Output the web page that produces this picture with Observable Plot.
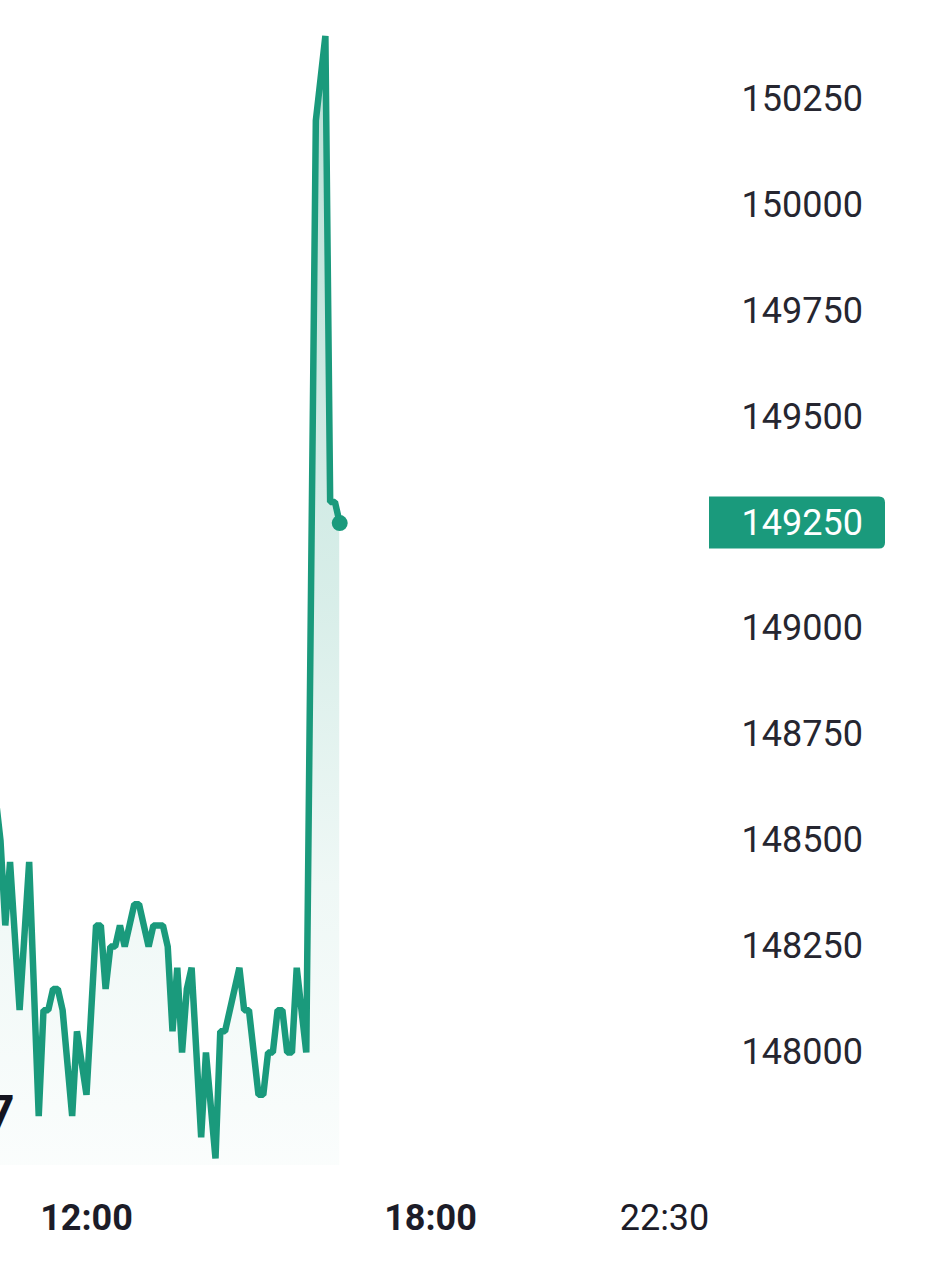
<!DOCTYPE html>
<html><head><meta charset="utf-8">
<script src="https://cdn.jsdelivr.net/npm/d3@7"></script>
<script src="https://cdn.jsdelivr.net/npm/@observablehq/plot@0.6"></script>
<style>
html,body{margin:0;padding:0;background:#fff;}
#chart svg{display:block;}
</style></head><body><div id="chart"></div>
<script>
// price samples (5-minute grid, vertices only)
const times = ["10:25","10:30","10:35","10:40","10:50","11:00","11:10","11:15","11:20","11:25","11:30","11:35","11:45","11:50","12:00","12:10","12:15","12:20","12:25","12:30","12:35","12:40","12:50","12:55","13:05","13:10","13:20","13:25","13:30","13:35","13:40","13:45","13:50","14:00","14:05","14:15","14:20","14:25","14:40","14:45","14:50","15:00","15:05","15:10","15:15","15:20","15:25","15:30","15:35","15:40","15:50","15:55","16:00","16:05","16:10","16:15","16:20","16:25"];
const prices = [148600,148500,148300,148450,148100,148450,147850,148100,148100,148150,148150,148100,147850,148050,147900,148300,148300,148150,148250,148250,148300,148250,148350,148350,148250,148300,148300,148250,148050,148200,148000,148150,148200,147800,148000,147750,148050,148050,148200,148100,148100,147900,147900,148000,148000,148100,148100,148000,148000,148200,148000,149100,150200,150300,150400,149300,149300,149250];
const yTicks = [148000,148250,148500,148750,149000,149250,149500,149750,150000,150250];
const xTickTimes = ["12:00","18:00","22:30"];
const xTickLabels = ["12:00","18:00","22:30"];
const xTickBold = [true, true, false];
const lastPrice = 149250;
const cutLabel = ["7"];

const parse = t => new Date("2024-01-01T" + t + ":00");
const data = times.map((t, i) => ({t: parse(t), p: prices[i]}));
const last = data[data.length - 1];
const xTicks = xTickTimes.map((t, i) => ({t: parse(t), label: xTickLabels[i], bold: xTickBold[i]}));
const teal = "#1a9a7c";

const defs = () => {
  const svg = d3.create("svg:defs");
  const g = svg.append("linearGradient").attr("id", "areaGrad").attr("x1", 0).attr("y1", 0).attr("x2", 0).attr("y2", 1);
  [[0, 0.30], [0.5, 0.17], [0.75, 0.07], [1, 0.02]].forEach(([o, a]) =>
    g.append("stop").attr("offset", o).attr("stop-color", teal).attr("stop-opacity", a));
  return svg.node();
};

const badge = (index, scales, values, dims) => {
  const y = scales.y(lastPrice);
  const x0 = dims.width - dims.marginRight - 32, w = 176, h = 52, r = 6;
  const top = y - h / 2;
  return d3.create("svg:path")
    .attr("d", `M${x0},${top}H${x0 + w - r}Q${x0 + w},${top} ${x0 + w},${top + r}V${top + h - r}Q${x0 + w},${top + h} ${x0 + w - r},${top + h}H${x0}Z`)
    .attr("fill", teal).node();
};

const plot = Plot.plot({
  width: 934, height: 1280,
  marginLeft: 0, marginRight: 193, marginTop: 0, marginBottom: 115,
  style: {fontFamily: "Roboto, sans-serif", background: "#fff"},
  x: {type: "time", domain: [parse("10:30"), parse("22:30")], range: [0, 688], axis: null},
  y: {domain: [148000, 150250], range: [1052, 99], axis: null},
  marks: [
    defs,
    Plot.areaY(data, {x: "t", y1: 147730, y2: "p", fill: "url(#areaGrad)", clip: true}),
    Plot.line(data, {x: "t", y: "p", stroke: teal, strokeWidth: 6.5, strokeLinejoin: "miter", strokeLinecap: "round", clip: true}),
    Plot.dot([last], {x: "t", y: "p", r: 8, fill: teal}),
    badge,
    Plot.text(yTicks, {y: d => d, text: d => String(d), frameAnchor: "right", textAnchor: "start", dx: 0,
      fill: d => d === lastPrice ? "#ffffff" : "#262630", fontSize: 36}),
    Plot.text(xTicks.filter(d => d.bold), {x: "t", text: "label", frameAnchor: "bottom", lineAnchor: "middle", dy: 53,
      fontSize: 36, fontWeight: "bold", fill: "#1c1c28"}),
    Plot.text(xTicks.filter(d => !d.bold), {x: "t", text: "label", frameAnchor: "bottom", lineAnchor: "middle", dy: 53, dx: -24,
      fontSize: 36, fill: "#1c1c28"}),
    Plot.text(cutLabel, {y: 147850, text: d => d, frameAnchor: "left", textAnchor: "end", dx: 14, dy: -2, fontSize: 48, fontWeight: "bold", fill: "#15151f"})
  ]
});
document.getElementById("chart").appendChild(plot);
</script></body></html>
